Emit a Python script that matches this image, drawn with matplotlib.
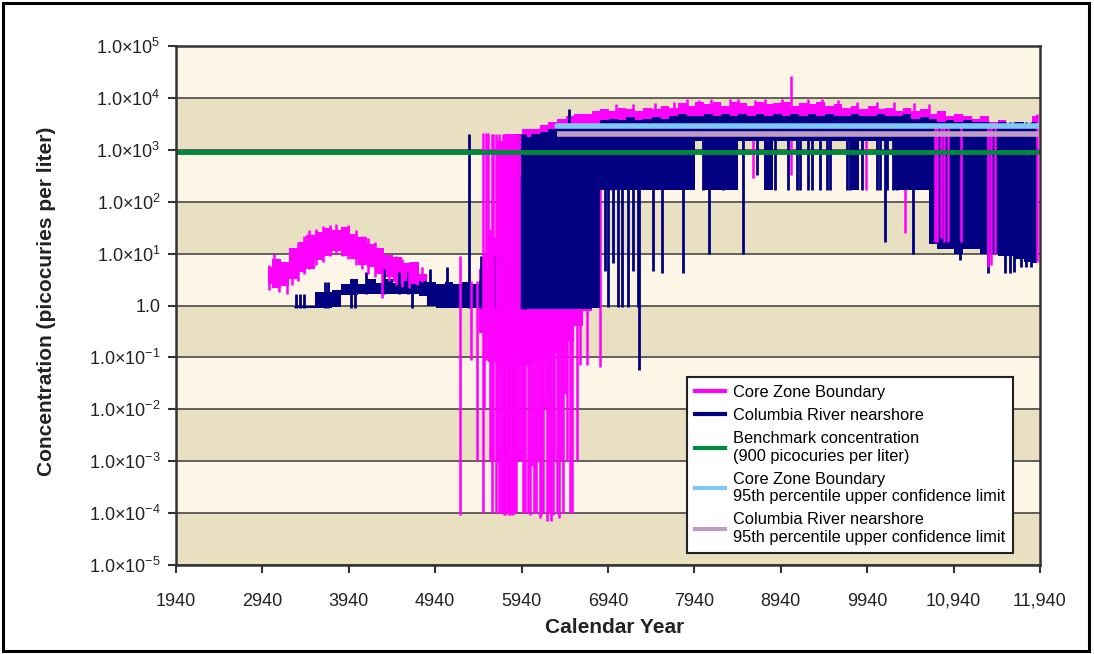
import numpy as np
import matplotlib
matplotlib.use('Agg')
import matplotlib.pyplot as plt
from matplotlib.patches import Rectangle

plt.rcParams['font.family'] = ['Liberation Sans', 'DejaVu Sans']
plt.rcParams['mathtext.fontset'] = 'custom'
plt.rcParams['mathtext.rm'] = 'Liberation Sans'
plt.rcParams['mathtext.it'] = 'Liberation Sans:italic'
plt.rcParams['mathtext.bf'] = 'Liberation Sans:bold'

# Data --------------------------------------------------------------------------

# Core Zone Boundary: dense band per 100-year bin (low / high), picocuries per liter
pink_years = list(range(3000, 12000, 100))
pink_lo = [2.6, 2.2, 2.4, 3.2, 4.5, 5, 7.5, 9, 11, 9,
           8, 6, 5.5, 4, 3.5, 2.8, 2.8, 2.6, 2.0, 1.5,
           1.5, 1.5, 1.2, 1.0, 0.9, 0.3, 0.08, 0.08, 0.07, 0.07,
           0.07, 0.08, 0.09, 0.12, 0.15, 0.2, 0.4, 0.8, 1.0, 2500,
           2500, 2500, 2500, 2500, 2500, 2500, 2500, 2500, 2500, 2500,
           2500, 2500, 2500, 2500, 2500, 2500, 2500, 2500, 2500, 2500,
           2500, 2500, 2500, 2500, 2500, 2500, 2500, 2500, 2500, 2500,
           2500, 2500, 2500, 2500, 2500, 2500, 2500, 2000, 1500, 1500,
           1500, 1500, 1500, 1500, 1500, 1500, 1500, 1500, 1500, 1500]
pink_hi = [5.5, 8, 7, 13, 17, 23, 26, 31, 28, 32,
           24, 21, 15, 13, 9.5, 8.5, 6.5, 7, 4, 2.5,
           2.5, 2.5, 2.5, 2.5, 2.5, 5, 20, 1500, 2000, 2000,
           2500, 2500, 3000, 3500, 4000, 4500, 5000, 5000, 5500, 6000,
           5500, 6500, 6000, 5500, 6500, 6000, 7000, 6500, 8000, 7000,
           8500, 7500, 8500, 7000, 8500, 8000, 7000, 8500, 7500, 8000,
           8500, 7000, 8000, 7500, 8500, 7000, 7500, 6500, 7000, 6000,
           7000, 6000, 6500, 5500, 6500, 5500, 6000, 5000, 5500, 4500,
           5000, 4500, 4000, 4500, 3500, 3800, 3200, 3500, 3200, 4500]

# Core Zone Boundary: single spikes behind the river series
pink_spike_years = [5935, 5960, 5985, 6010, 6035, 6060, 6085, 6110, 6130, 6150,
                    6170, 6190, 6210, 6230, 6255, 6280, 6300, 6320, 6345, 6370,
                    6395, 6420, 6445, 6470, 6495, 6520, 6580, 6620, 6700, 6850,
                    6960, 7030, 7230, 7480, 7700, 7850, 7990, 8130, 8350, 8450,
                    8620, 8640, 8760, 8950, 9060, 9250, 9420, 9600, 9820, 9930,
                    10050, 10250, 10380, 10480, 10650]
pink_spike_lo = [1e-3, 1e-4, 1e-4, 1e-4, 9e-5, 8e-4, 1e-4, 1e-4, 1e-3, 8e-5,
                 9e-5, 1e-4, 0.01, 7e-5, 1e-4, 7e-5, 9e-5, 1e-3, 1e-4, 8e-5,
                 1e-3, 1e-4, 0.02, 1e-3, 1e-4, 1e-4, 1e-3, 0.07, 0.07, 0.065,
                 170, 3000, 2500, 3000, 3000, 3000, 2500, 3000, 2500, 3000,
                 280, 2500, 3000, 3000, 330, 3000, 3000, 3000, 3000, 170,
                 3000, 3000, 25, 3000, 3000]
pink_spike_hi = [2000, 2000, 2000, 2000, 2000, 2000, 2000, 2500, 2500, 2500,
                 2500, 2500, 2500, 3000, 3000, 3000, 3000, 3500, 3500, 3500,
                 3500, 4000, 4000, 4000, 4000, 4500, 5000, 5000, 5000, 5500,
                 2500, 7500, 7800, 8000, 8500, 9500, 9000, 9500, 9500, 9500,
                 2500, 9000, 9500, 9500, 26000, 9500, 9500, 9000, 8500, 2500,
                 8500, 8500, 2500, 8000, 7500]

# Core Zone Boundary: spikes drawn in front of the river series
pink_front_years = [3020, 3070, 3130, 3230, 3280, 3350, 3420, 3480, 3560, 3640,
                    3720, 3790, 3860, 3930, 4020, 4090, 4160, 4240, 4330, 4410,
                    4490, 4560, 4640, 4730, 4790,
                    5227, 5354, 5420, 5490, 5505, 5525, 5550, 5575, 5595, 5610,
                    5640, 5660, 5680, 5700, 5720, 5735, 5750, 5765, 5780, 5795,
                    5810, 5825, 5840, 5855, 5870, 5890, 5910,
                    10720, 10750, 10790, 10830, 10870, 11020, 11340, 11370, 11420, 11900]
pink_front_lo = [2, 3, 1.8, 1.7, 2.5, 3, 4, 5, 6, 7,
                 9, 10, 9, 8, 6, 5, 4, 3.5, 1.4, 3,
                 2.5, 2.3, 2.2, 2.5, 2.8,
                 9e-5, 0.09, 1e-3, 1e-4, 0.01, 0.09, 0.09, 1e-3, 1e-4, 1e-3,
                 1e-4, 1e-3, 1e-4, 1e-4, 1e-4, 9e-5, 9e-5, 1e-4, 1e-4, 9e-5,
                 9e-5, 1e-4, 9e-5, 1e-4, 1e-4, 1e-3, 1e-3,
                 17, 17, 20, 17, 17, 17, 5.5, 6, 10, 7]
pink_front_hi = [6, 10, 6, 5, 13, 17, 22, 28, 30, 34,
                 35, 38, 32, 36, 28, 22, 20, 17, 13, 10,
                 9, 8, 7, 6.5, 5.5,
                 9, 3, 3, 2100, 10, 2100, 2100, 30, 2000, 2000,
                 2000, 300, 2000, 1000, 2000, 2000, 2000, 2000, 2000, 2000,
                 2000, 2000, 2000, 2000, 2000, 2000, 2000,
                 3000, 3000, 3000, 3000, 3000, 3000, 3000, 3000, 3000, 5000]

# Columbia River nearshore: dense band per 100-year bin
river_years = list(range(3300, 12000, 100))
river_lo = [0.9, 0.9, 0.9, 0.9, 0.9, 0.95, 1.6, 1.6, 1.7, 1.7,
            1.7, 1.7, 1.7, 1.7, 1.7, 1.5, 1.0, 0.9, 0.9, 0.9,
            0.9, 0.9, 0.9, 0.9, 0.9, 0.85, 0.85, 0.85, 0.85, 0.85,
            0.85, 0.85, 0.85, 0.85, 0.85, 0.9, 170, 170, 170, 170,
            170, 170, 170, 170, 170, 170, 170, 1500, 170, 170,
            170, 170, 1500, 1500, 1500, 170, 1500, 1500, 1500, 1500,
            1500, 1500, 1500, 1500, 1500, 170, 1500, 1500, 1500, 1500,
            170, 170, 170, 170, 15, 12, 12, 10, 12, 12,
            10, 10, 9, 9, 8, 7, 6.5]
river_hi = [0.95, 1.0, 1.0, 1.8, 1.8, 2.0, 2.6, 3.2, 2.6, 3.2,
            2.7, 3.3, 2.7, 3.0, 2.6, 3.0, 2.8, 2.6, 2.9, 2.6,
            2.8, 2.6, 3.0, 3.5, 5, 8, 300, 1800, 2000, 2200,
            2500, 2600, 2600, 2800, 3000, 3200, 3800, 4000, 3800, 4200,
            3800, 4000, 4200, 4000, 4500, 4800, 4500, 4500, 5000, 4500,
            4800, 4500, 5000, 4500, 4800, 4500, 5000, 4500, 4800, 4500,
            5000, 4500, 4800, 4500, 4500, 4800, 4500, 4500, 4800, 4500,
            4500, 4800, 4000, 4200, 4000, 3500, 3800, 3500, 3800, 3500,
            3500, 3200, 3500, 3200, 3500, 3200, 3500]

# Columbia River nearshore: single spikes
river_spike_years = [3330, 3380, 3420, 3660, 3700, 3960, 4010, 4140, 4350, 4520,
                     4620, 4670, 4880, 5080, 5330, 5470, 5620, 5700, 5760, 5840,
                     5900, 5940, 5980, 6490, 6905, 6940, 6998, 7055, 7100, 7170,
                     7230, 7290, 7300, 7460, 7560, 7810, 8040, 8110, 8270, 8500,
                     8660, 8870, 9025, 9125, 9160, 9250, 9300, 9395, 9475, 9510,
                     9705, 9740, 9880, 10050, 10090, 10150, 10170, 10240, 10285, 10470,
                     11010, 11340, 11530, 11590, 11640, 11720, 11780, 11840]
river_spike_lo = [0.9, 0.9, 0.9, 0.9, 0.9, 0.9, 0.9, 1.7, 1.7, 1.7,
                  1.7, 0.9, 1.7, 1.7, 0.9, 0.9, 0.9, 0.9, 0.9, 0.9,
                  0.85, 0.85, 0.85, 1.0, 4.7, 0.95, 6.6, 0.95, 0.95, 0.95,
                  4.7, 0.95, 0.057, 4.7, 4.3, 4.3, 170, 10, 170, 10,
                  330, 170, 170, 170, 170, 170, 170, 170, 170, 170,
                  170, 170, 170, 170, 170, 17, 170, 170, 170, 10,
                  7.5, 4.3, 4.2, 4.2, 4.5, 5.5, 5.5, 5.5]
river_spike_hi = [1.7, 1.7, 1.7, 2.8, 2.8, 2.5, 2.5, 4.5, 5, 4.5,
                  4.5, 2.5, 5, 5.5, 2000, 9, 9, 20, 45, 180,
                  2000, 2000, 2000, 6000, 3500, 3500, 3500, 3500, 3500, 3500,
                  3500, 3500, 3500, 3500, 3500, 3500, 3500, 3500, 3500, 3500,
                  3500, 3500, 3500, 3500, 3500, 3500, 3500, 3500, 3500, 3500,
                  3500, 3500, 3500, 3500, 3500, 3500, 3500, 3500, 3500, 3500,
                  3500, 3500, 3500, 3500, 3500, 3500, 3500, 3500]

# reference levels
benchmark = 900
core_ucl = 2900
river_ucl = 2000
ucl_years = [6350, 11940]

xticks = [1940, 2940, 3940, 4940, 5940, 6940, 7940, 8940, 9940, 10940, 11940]
xtick_labels = ['1940', '2940', '3940', '4940', '5940', '6940', '7940', '8940',
                '9940', '10,940', '11,940']
decades = list(range(-5, 6))

# colours
pink = '#ff00ff'
navy = '#000080'
green = '#00893c'
light_blue = '#7ec8f2'
mauve = '#bf9cc4'
band_light = '#fdf6e6'
band_tan = '#e9e0c1'

# Plot -------------------------------------------------------------------------

fig = plt.figure(figsize=(10.94, 6.54), dpi=100)
ax = fig.add_axes([176 / 1094, 1 - 565 / 654, 864 / 1094, 519 / 654])
ax.set_yscale('log')
ax.set_xlim(1940, 11940)
ax.set_ylim(1e-5, 1e5)

# alternating decade bands and grid lines
for k in decades[:-1]:
    ax.axhspan(10.0 ** k, 10.0 ** (k + 1), color=band_tan if k % 2 else band_light,
               lw=0, zorder=0)
for k in decades:
    ax.axhline(10.0 ** k, color='#555555', lw=1.3, zorder=1)

# Core Zone Boundary (behind)
ax.fill_between(pink_years, pink_lo, pink_hi, step='mid', color=pink, lw=0, zorder=2)
ax.vlines(pink_spike_years, pink_spike_lo, pink_spike_hi, color=pink, lw=1.8, zorder=2)

# Columbia River nearshore
ax.fill_between(river_years, river_lo, river_hi, step='mid', color=navy, lw=0, zorder=3)
ax.vlines(river_spike_years, river_spike_lo, river_spike_hi, color=navy, lw=2.0, zorder=3)

# Core Zone Boundary spikes in front
ax.vlines(pink_front_years, pink_front_lo, pink_front_hi, color=pink, lw=1.8, zorder=4)

# reference lines
ax.axhline(benchmark, color=green, lw=3.5, zorder=5)
ax.plot(ucl_years, [core_ucl, core_ucl], color=light_blue, lw=4, solid_capstyle='round', zorder=5)
ax.plot(ucl_years, [river_ucl, river_ucl], color=mauve, lw=4, solid_capstyle='butt', zorder=5)

# axes styling
for s in ax.spines.values():
    s.set_color('#333333')
    s.set_linewidth(1.8)
    s.set_zorder(6)

ax.set_xticks(xticks)
ax.set_xticklabels(xtick_labels)
ax.set_yticks([10.0 ** k for k in decades])
ax.set_yticklabels(['1.0' if k == 0 else '1.0×10$^{%d}$' % k for k in decades])
ax.minorticks_off()
ax.tick_params(axis='both', direction='out', length=6, width=1.5, color='#333333',
               labelsize=13, labelcolor='#222222')
ax.tick_params(axis='x', pad=14)
ax.tick_params(axis='y', pad=5)

ax.set_xlabel('Calendar Year', fontsize=15, fontweight='bold', color='#222222')
ax.set_ylabel('Concentration (picocuries per liter)', fontsize=15, fontweight='bold',
              color='#222222')
ax.xaxis.set_label_coords(0.508, -0.102)
ax.yaxis.set_label_coords(-0.139, 0.509)

# legend
handles = [
    plt.Line2D([], [], color=pink, lw=3),
    plt.Line2D([], [], color=navy, lw=3),
    plt.Line2D([], [], color=green, lw=3),
    plt.Line2D([], [], color=light_blue, lw=3),
    plt.Line2D([], [], color=mauve, lw=3),
]
labels = [
    'Core Zone Boundary',
    'Columbia River nearshore',
    'Benchmark concentration\n(900 picocuries per liter)',
    'Core Zone Boundary\n95th percentile upper confidence limit',
    'Columbia River nearshore\n95th percentile upper confidence limit',
]
leg = ax.legend(handles, labels, loc='lower right', bbox_to_anchor=(0.969, 0.023),
                borderaxespad=0, fontsize=11.8, handlelength=1.8, handletextpad=0.5,
                labelspacing=0.5, fancybox=False, framealpha=1, edgecolor='#222222',
                borderpad=0.5)
leg.get_frame().set_linewidth(1.5)
leg.set_zorder(10)

# outer frame round the whole figure
fig.patches.append(Rectangle((0.003, 0.004), 0.992, 0.992, transform=fig.transFigure,
                             fill=False, edgecolor='black', lw=2.2))

fig.savefig('out.png', dpi=100)
